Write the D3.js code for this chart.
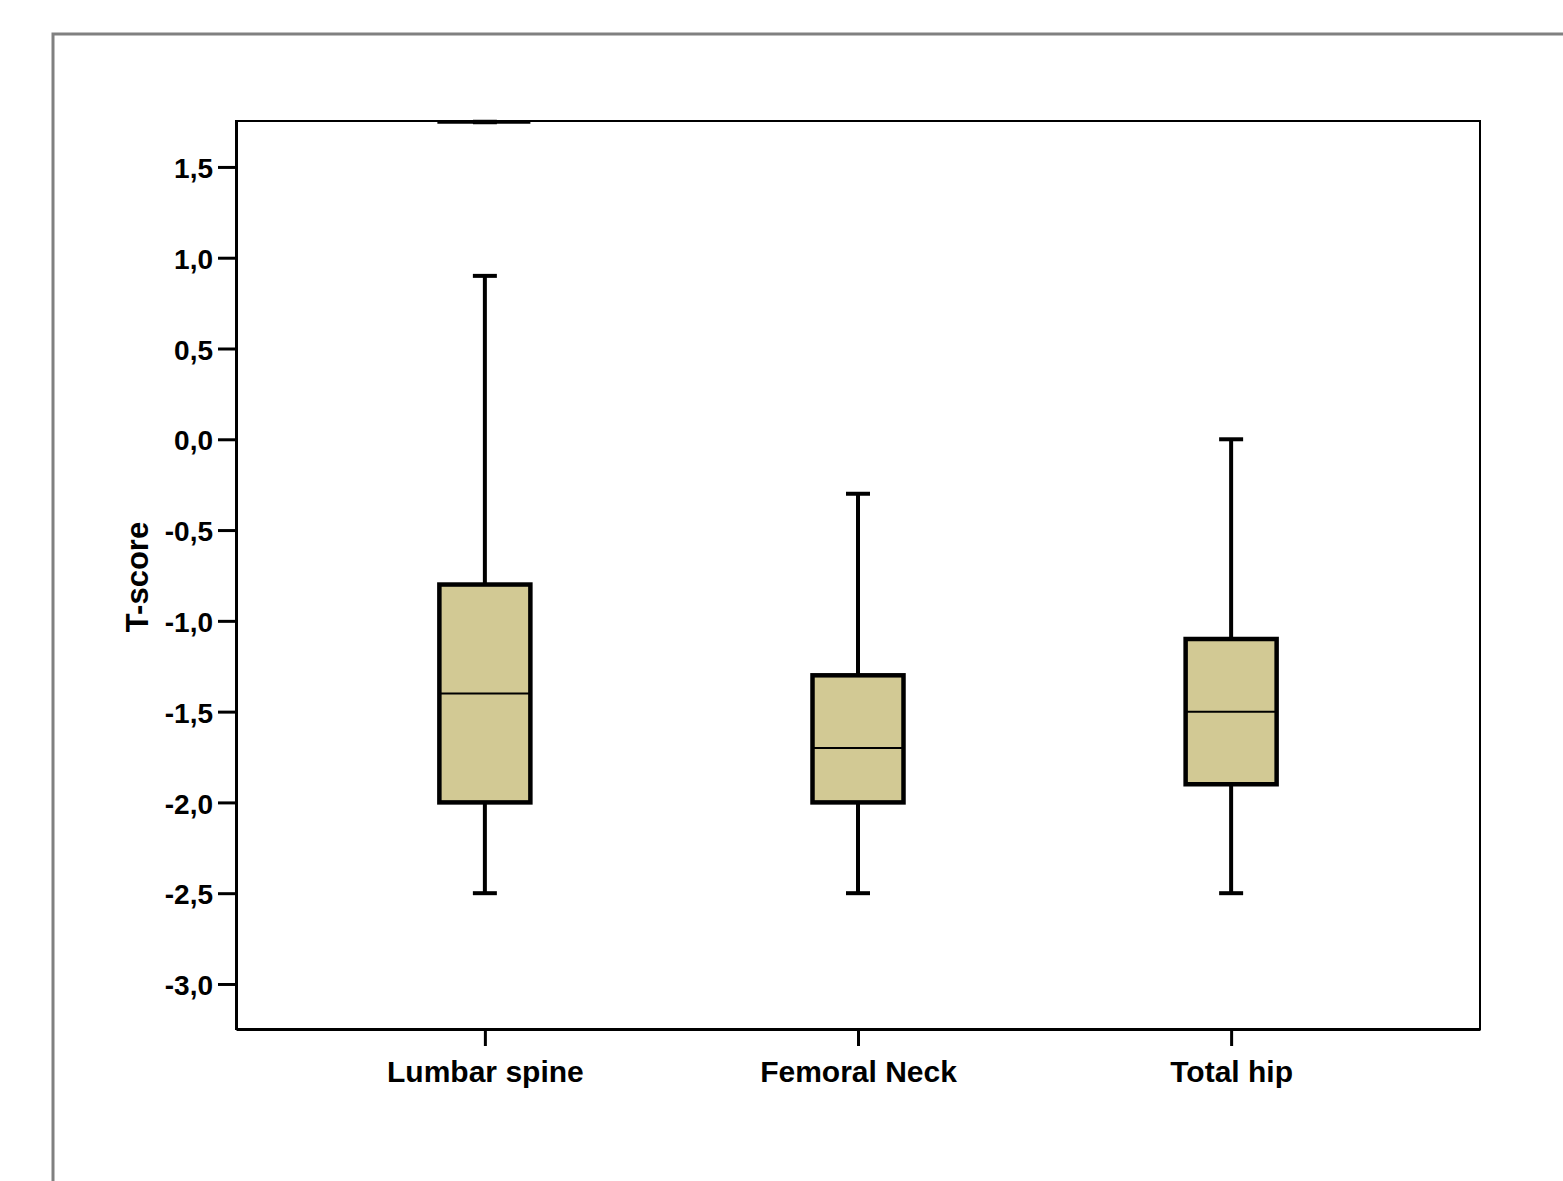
<!DOCTYPE html>
<html>
<head>
<meta charset="UTF-8">
<title>T-score boxplot</title>
<style>
  body { margin: 0; background: white; font-family: "Liberation Sans", Arial, sans-serif; }
  svg { display: block; }
  .tick text { font-weight: bold; }
</style>
</head>
<body>
<svg id="chart" width="1563" height="1181"></svg>
<script src="https://d3js.org/d3.v7.min.js"></script>
<script>
// data
var categories = ["Lumbar spine", "Femoral Neck", "Total hip"];
var whiskerLow = [-2.5, -2.5, -2.5];
var q1 = [-2.0, -2.0, -1.9];
var medians = [-1.4, -1.7, -1.5];
var q3 = [-0.8, -1.3, -1.1];
var whiskerHigh = [0.9, -0.3, 0.0];
var yTicks = [1.5, 1.0, 0.5, 0.0, -0.5, -1.0, -1.5, -2.0, -2.5, -3.0];

var svg = d3.select("#chart");

// outer frame (only top and left visible)
svg.append("path")
    .attr("d", "M53,1181 V34 H1563")
    .attr("fill", "none")
    .attr("stroke", "#808080")
    .attr("stroke-width", 3);

var plotLeft = 236, plotRight = 1480, plotTop = 121, plotBottom = 1029;

var y = d3.scaleLinear().domain([-3.248, 1.753]).range([plotBottom, plotTop]);
var x = d3.scalePoint().domain(categories).range([plotLeft, plotRight]).padding(0.667);

// plot frame
svg.append("rect")
    .attr("x", plotLeft).attr("y", plotTop)
    .attr("width", plotRight - plotLeft).attr("height", plotBottom - plotTop)
    .attr("fill", "none").attr("stroke", "black").attr("stroke-width", 2);

// y axis
var yAxis = svg.append("g")
    .attr("transform", "translate(" + plotLeft + ",0)")
    .call(d3.axisLeft(y).tickValues(yTicks).tickSize(18).tickSizeOuter(0).tickPadding(5)
        .tickFormat(function(d) { return d3.format(".1f")(d).replace(".", ",").replace("−", "-"); }));
yAxis.select(".domain").attr("stroke-width", 3);
yAxis.selectAll(".tick line").attr("stroke-width", 3);
yAxis.selectAll(".tick text").attr("font-size", 28).attr("dy", "0.38em")
    .attr("font-family", "Liberation Sans, Arial, sans-serif").attr("fill", "black");

// x axis
var xAxis = svg.append("g")
    .attr("transform", "translate(0," + plotBottom + ")")
    .call(d3.axisBottom(x).tickSize(17).tickSizeOuter(0).tickPadding(15));
xAxis.select(".domain").attr("stroke-width", 3);
xAxis.selectAll(".tick line").attr("stroke-width", 3);
xAxis.selectAll(".tick text").attr("font-size", 30).attr("font-family", "Liberation Sans, Arial, sans-serif").attr("fill", "black");

// y label
svg.append("text")
    .attr("transform", "translate(148," + ((plotTop + plotBottom) / 2 + 2) + ") rotate(-90)")
    .attr("text-anchor", "middle")
    .attr("font-size", 31).attr("font-weight", "bold")
    .text("T-score");

var boxW = 91, capW = 24;
var g = svg.append("g");

categories.forEach(function(c, i) {
    var cx = x(c);
    // whiskers
    g.append("line").attr("x1", cx).attr("x2", cx)
        .attr("y1", y(whiskerHigh[i])).attr("y2", y(q3[i]))
        .attr("stroke", "black").attr("stroke-width", 4);
    g.append("line").attr("x1", cx).attr("x2", cx)
        .attr("y1", y(q1[i])).attr("y2", y(whiskerLow[i]))
        .attr("stroke", "black").attr("stroke-width", 4);
    [whiskerHigh[i], whiskerLow[i]].forEach(function(v) {
        g.append("line").attr("x1", cx - capW / 2).attr("x2", cx + capW / 2)
            .attr("y1", y(v)).attr("y2", y(v))
            .attr("stroke", "black").attr("stroke-width", 4);
    });
    // box
    g.append("rect")
        .attr("x", cx - boxW / 2).attr("y", y(q3[i]))
        .attr("width", boxW).attr("height", y(q1[i]) - y(q3[i]))
        .attr("fill", "#d2c994").attr("stroke", "black").attr("stroke-width", 4.5);
    g.append("line").attr("x1", cx - boxW / 2).attr("x2", cx + boxW / 2)
        .attr("y1", y(medians[i])).attr("y2", y(medians[i]))
        .attr("stroke", "black").attr("stroke-width", 2);
});

// clipped extreme marker at the top of lumbar spine
var lx = x(categories[0]);
g.append("line").attr("x1", lx - boxW / 2 - 2).attr("x2", lx + boxW / 2)
    .attr("y1", plotTop + 1).attr("y2", plotTop + 1)
    .attr("stroke", "black").attr("stroke-width", 3.5);
g.append("line").attr("x1", lx - capW / 2).attr("x2", lx + capW / 2)
    .attr("y1", plotTop + 1).attr("y2", plotTop + 1)
    .attr("stroke", "black").attr("stroke-width", 4.5);
</script>
</body>
</html>
